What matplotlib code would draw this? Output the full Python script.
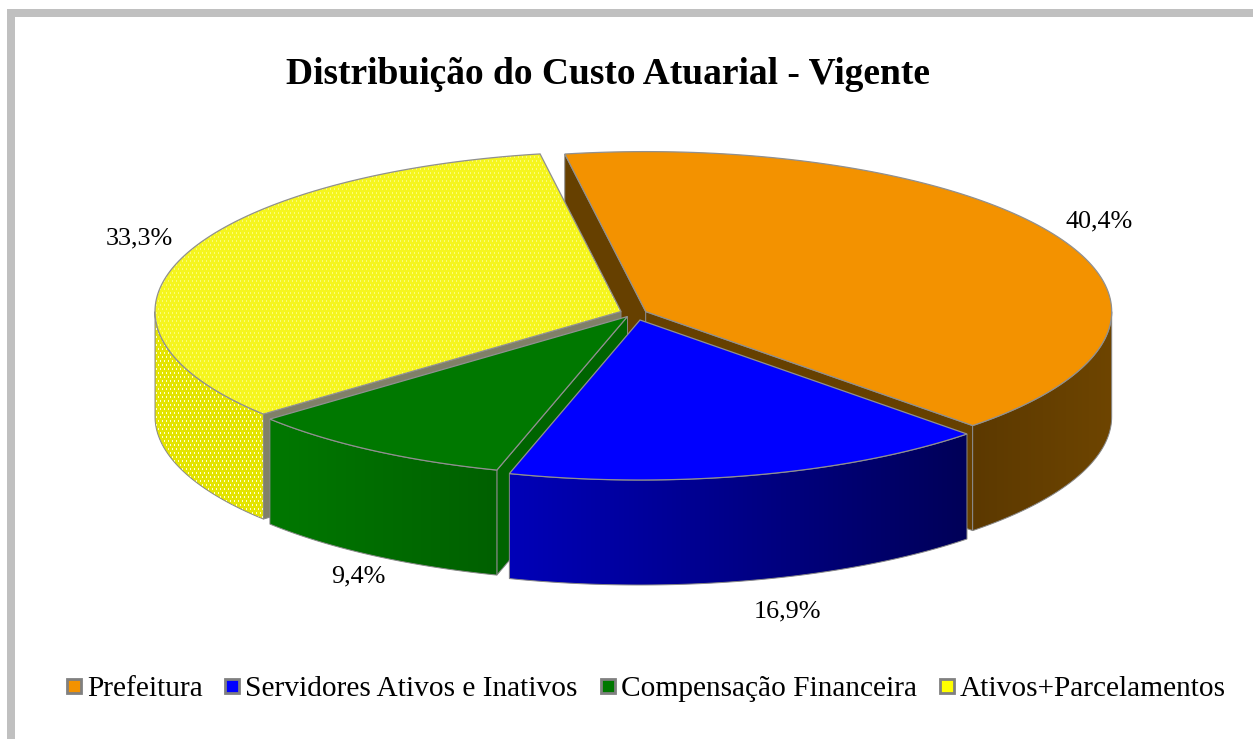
import numpy as np
import matplotlib
matplotlib.use('Agg')
import matplotlib.pyplot as plt
from matplotlib.patches import Polygon, Rectangle
from matplotlib.colors import LinearSegmentedColormap, to_rgb

plt.rcParams['font.family'] = ['Liberation Serif', 'DejaVu Serif']

title = 'Distribuição do Custo Atuarial - Vigente'
labels = ['Prefeitura', 'Servidores Ativos e Inativos', 'Compensação Financeira', 'Ativos+Parcelamentos']
values = [40.4, 16.9, 9.4, 33.3]
value_text = ['40,4%', '16,9%', '9,4%', '33,3%']
top_colors = ['#F39200', '#0000FF', '#007800', '#FFFF00']
cut_colors = ['#664000', '#000080', '#006400', '#808068']
wall_colors = [['#6E4500', '#5C3900'], ['#0000B8', '#000058'], ['#007800', '#006000'], ['#F2F200', '#E4E400']]

# geometria em pixels da imagem
rx, ry = 466, 160
depth = 105
first_angle = 350
centers = [(645.7, 311.6), (640, 320), (627.5, 316.5), (621, 311.5)]
label_pos = [(1099, 221), (787, 611), (358, 576), (139, 238)]
legend_x = [65, 223, 599, 938]
# de tras para frente: laranja, amarelo, verde, azul
draw_rank = [0, 3, 2, 1]

fig = plt.figure(figsize=(12.53, 7.39), dpi=100)
ax = fig.add_axes([0, 0, 1, 1])
ax.axis('off')

# moldura cinza, so em cima e na esquerda
ax.add_patch(Rectangle((7, 9), 1246, 8, fc='#C0C0C0', ec='none'))
ax.add_patch(Rectangle((7, 9), 8, 730, fc='#C0C0C0', ec='none'))


def rim(center, a0, a1, dy=0):
    t = np.radians(np.linspace(a0, a1, 120))
    return np.column_stack([center[0] + rx * np.sin(t), center[1] - ry * np.cos(t) + dy])


def dots(base, dot_color, step):
    # textura pontilhada da fatia amarela
    img = np.tile(np.array(to_rgb(base)), (739, 1253, 1))
    yy, xx = np.indices((739, 1253))
    img[(yy % step < step // 2) & ((xx + (yy // step) * (step // 2)) % step == 0)] = to_rgb(dot_color)
    return img


def draw_slice(i, a0, a1):
    c = centers[i]
    z = draw_rank[i] * 4 + 1
    # paredes de corte visiveis
    for a, visible in [(a0, np.sin(np.radians(a0)) < 0), (a1, np.sin(np.radians(a1)) > 0)]:
        if visible:
            p = rim(c, a, a)[0]
            ax.add_patch(Polygon([c, p, (p[0], p[1] + depth), (c[0], c[1] + depth)],
                                 fc=cut_colors[i], ec='#888888', lw=0.7, zorder=z))
    # parede externa
    lo, hi = max(a0, 90), min(a1, 270)
    if lo < hi:
        top = rim(c, lo, hi)
        bottom = rim(c, hi, lo, depth)
        shape = np.vstack([top, bottom])
        x0, x1 = top[:, 0].min(), top[:, 0].max()
        if i == 3:
            im = ax.imshow(dots(wall_colors[i][1], '#FFFFD0', 4), extent=(0, 1253, 739, 0),
                           interpolation='nearest', aspect='auto', zorder=z + 1)
        else:
            cmap = LinearSegmentedColormap.from_list('w', wall_colors[i])
            grad = np.linspace(0, 1, 256).reshape(1, -1)
            if i == 0:
                grad = grad[:, ::-1]
            im = ax.imshow(grad, cmap=cmap, extent=(x0, x1, 739, 0), aspect='auto', zorder=z + 1)
        im.set_clip_path(Polygon(shape, transform=ax.transData))
        ax.add_patch(Polygon(shape, fc='none', ec='#888888', lw=0.7, zorder=z + 1.5))
    # tampo
    outline = np.vstack([[c], rim(c, a0, a1)])
    if i == 3:
        im = ax.imshow(dots('#F5F51E', '#FBFB78', 4), extent=(0, 1253, 739, 0),
                       interpolation='nearest', aspect='auto', zorder=z + 2)
        im.set_clip_path(Polygon(outline, transform=ax.transData))
        ax.add_patch(Polygon(outline, fc='none', ec='#909090', lw=0.9, zorder=z + 2.5))
    else:
        ax.add_patch(Polygon(outline, fc=top_colors[i], ec='#909090', lw=0.9, zorder=z + 2))


angles = first_angle + np.concatenate([[0], np.cumsum(values)]) * 3.6
for i in range(len(values)):
    a0, a1 = angles[i], angles[i + 1]
    if i == 0 or a0 >= 360:
        a0, a1 = a0 - 360, a1 - 360
    draw_slice(i, a0, a1)

ax.set_xlim(0, 1253)
ax.set_ylim(739, 0)

ax.text(608, 74, title, fontsize=27, fontweight='bold', ha='center', va='center', zorder=30)

for txt, pos in zip(value_text, label_pos):
    ax.text(pos[0], pos[1], txt, fontsize=18.8, ha='center', va='center', zorder=30)

for x, name, col in zip(legend_x, labels, top_colors):
    ax.add_patch(Rectangle((x + 1.5, 678.7), 14, 14, fc=col, ec='#808080', lw=2, zorder=30))
    ax.text(x + 22, 689, name, fontsize=21.2, ha='left', va='center', zorder=30)

fig.savefig('out.png', dpi=100)
